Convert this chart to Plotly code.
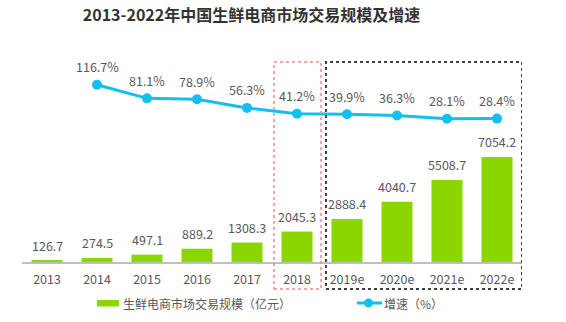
import plotly.graph_objects as go

# Market size (100 million yuan) and year-on-year growth (%)
years = ["2013", "2014", "2015", "2016", "2017", "2018", "2019e", "2020e", "2021e", "2022e"]
market_size = [126.7, 274.5, 497.1, 889.2, 1308.3, 2045.3, 2888.4, 4040.7, 5508.7, 7054.2]
growth_years = ["2014", "2015", "2016", "2017", "2018", "2019e", "2020e", "2021e", "2022e"]
growth_rate = [116.7, 81.1, 78.9, 56.3, 41.2, 39.9, 36.3, 28.1, 28.4]

title_text = "2013-2022年中国生鲜电商市场交易规模及增速"
bar_name = "生鲜电商市场交易规模（亿元）"
line_name = "增速（%）"

GREEN = "#8CD600"
CYAN = "#12BFEF"
TEXT = "#595959"
FONT = "Noto Sans CJK SC"

W, H = 566, 322
L, R, T, B = 22, 44, 60, 60
plot_w = W - L - R
plot_h = H - T - B

# numeric positions on a linear x axis, labelled with the year strings
xpos = {yr: i for i, yr in enumerate(years)}
bar_x = [xpos[y] for y in years]
line_x = [xpos[y] for y in growth_years]


def px_x(p):
    return (p - L) / plot_w


def px_y(p):
    return (H - B - p) / plot_h


fig = go.Figure()

fig.add_trace(go.Bar(
    x=bar_x, y=market_size, name=bar_name,
    marker=dict(color=GREEN, line=dict(width=0)),
    width=0.62, yaxis="y", showlegend=False,
))

fig.add_trace(go.Scatter(
    x=line_x, y=growth_rate, name=line_name, mode="lines+markers",
    line=dict(color=CYAN, width=3),
    marker=dict(color=CYAN, size=10),
    yaxis="y2", showlegend=False,
))

annotations = []
for xv, v in zip(bar_x, market_size):
    annotations.append(dict(
        x=xv, y=v, xref="x", yref="y", text=f"{v:.1f}", showarrow=False,
        yshift=15, font=dict(size=12.5, color=TEXT, family=FONT),
    ))
for xv, v in zip(line_x, growth_rate):
    annotations.append(dict(
        x=xv, y=v, xref="x", yref="y2", text=f"{v:.1f}%", showarrow=False,
        yshift=18, font=dict(size=12.5, color=TEXT, family=FONT),
    ))

# Legend drawn by hand: green swatch + cyan line with dot
annotations.append(dict(
    x=px_x(121), y=px_y(303), xref="paper", yref="paper",
    xanchor="left", yanchor="middle",
    text=bar_name, showarrow=False, font=dict(size=12, color=TEXT, family=FONT),
))
annotations.append(dict(
    x=px_x(382), y=px_y(303), xref="paper", yref="paper",
    xanchor="left", yanchor="middle",
    text=line_name, showarrow=False, font=dict(size=12, color=TEXT, family=FONT),
))

shapes = [
    # 2018 highlight box
    dict(type="rect", xref="x", yref="paper", x0=4.54, x1=5.48,
         y0=px_y(289), y1=px_y(62), line=dict(color="#F08A8A", width=1.5, dash="dot")),
    # forecast box
    dict(type="rect", xref="x", yref="paper", x0=5.58, x1=9.5,
         y0=px_y(289), y1=px_y(62), line=dict(color="#404040", width=2, dash="dot")),
    # legend swatch
    dict(type="rect", xref="paper", yref="paper", x0=px_x(97), x1=px_x(119),
         y0=px_y(306.5), y1=px_y(300), fillcolor=GREEN, line=dict(width=0)),
    # legend line
    dict(type="line", xref="paper", yref="paper", x0=px_x(357), x1=px_x(382),
         y0=px_y(303), y1=px_y(303), line=dict(color=CYAN, width=3)),
    dict(type="circle", xref="paper", yref="paper", x0=px_x(364), x1=px_x(373),
         y0=px_y(307.5), y1=px_y(298.5), fillcolor=CYAN, line=dict(width=0)),
]

fig.update_layout(
    width=W, height=H,
    margin=dict(l=L, r=R, t=T, b=B),
    paper_bgcolor="white", plot_bgcolor="white",
    font=dict(family=FONT, color=TEXT, size=12.5),
    title=dict(text=f"<b>{title_text}</b>", x=251.5 / W, xanchor="center",
               y=1 - 15 / H, yanchor="middle",
               font=dict(size=16, color="#333333", family=FONT)),
    xaxis=dict(range=[-0.5, len(years) - 0.5],
               tickmode="array", tickvals=bar_x, ticktext=years,
               showline=True, linecolor="#BFBFBF", linewidth=2,
               showgrid=False, zeroline=False,
               ticks="outside", ticklen=5, tickcolor="rgba(0,0,0,0)",
               tickfont=dict(size=12.5, color=TEXT, family=FONT)),
    yaxis=dict(range=[0, 13566], visible=False, showgrid=False, zeroline=False),
    yaxis2=dict(range=[-345, 181], overlaying="y", visible=False,
                showgrid=False, zeroline=False),
    showlegend=False,
    annotations=annotations,
    shapes=shapes,
)

fig.write_html("out.html")
